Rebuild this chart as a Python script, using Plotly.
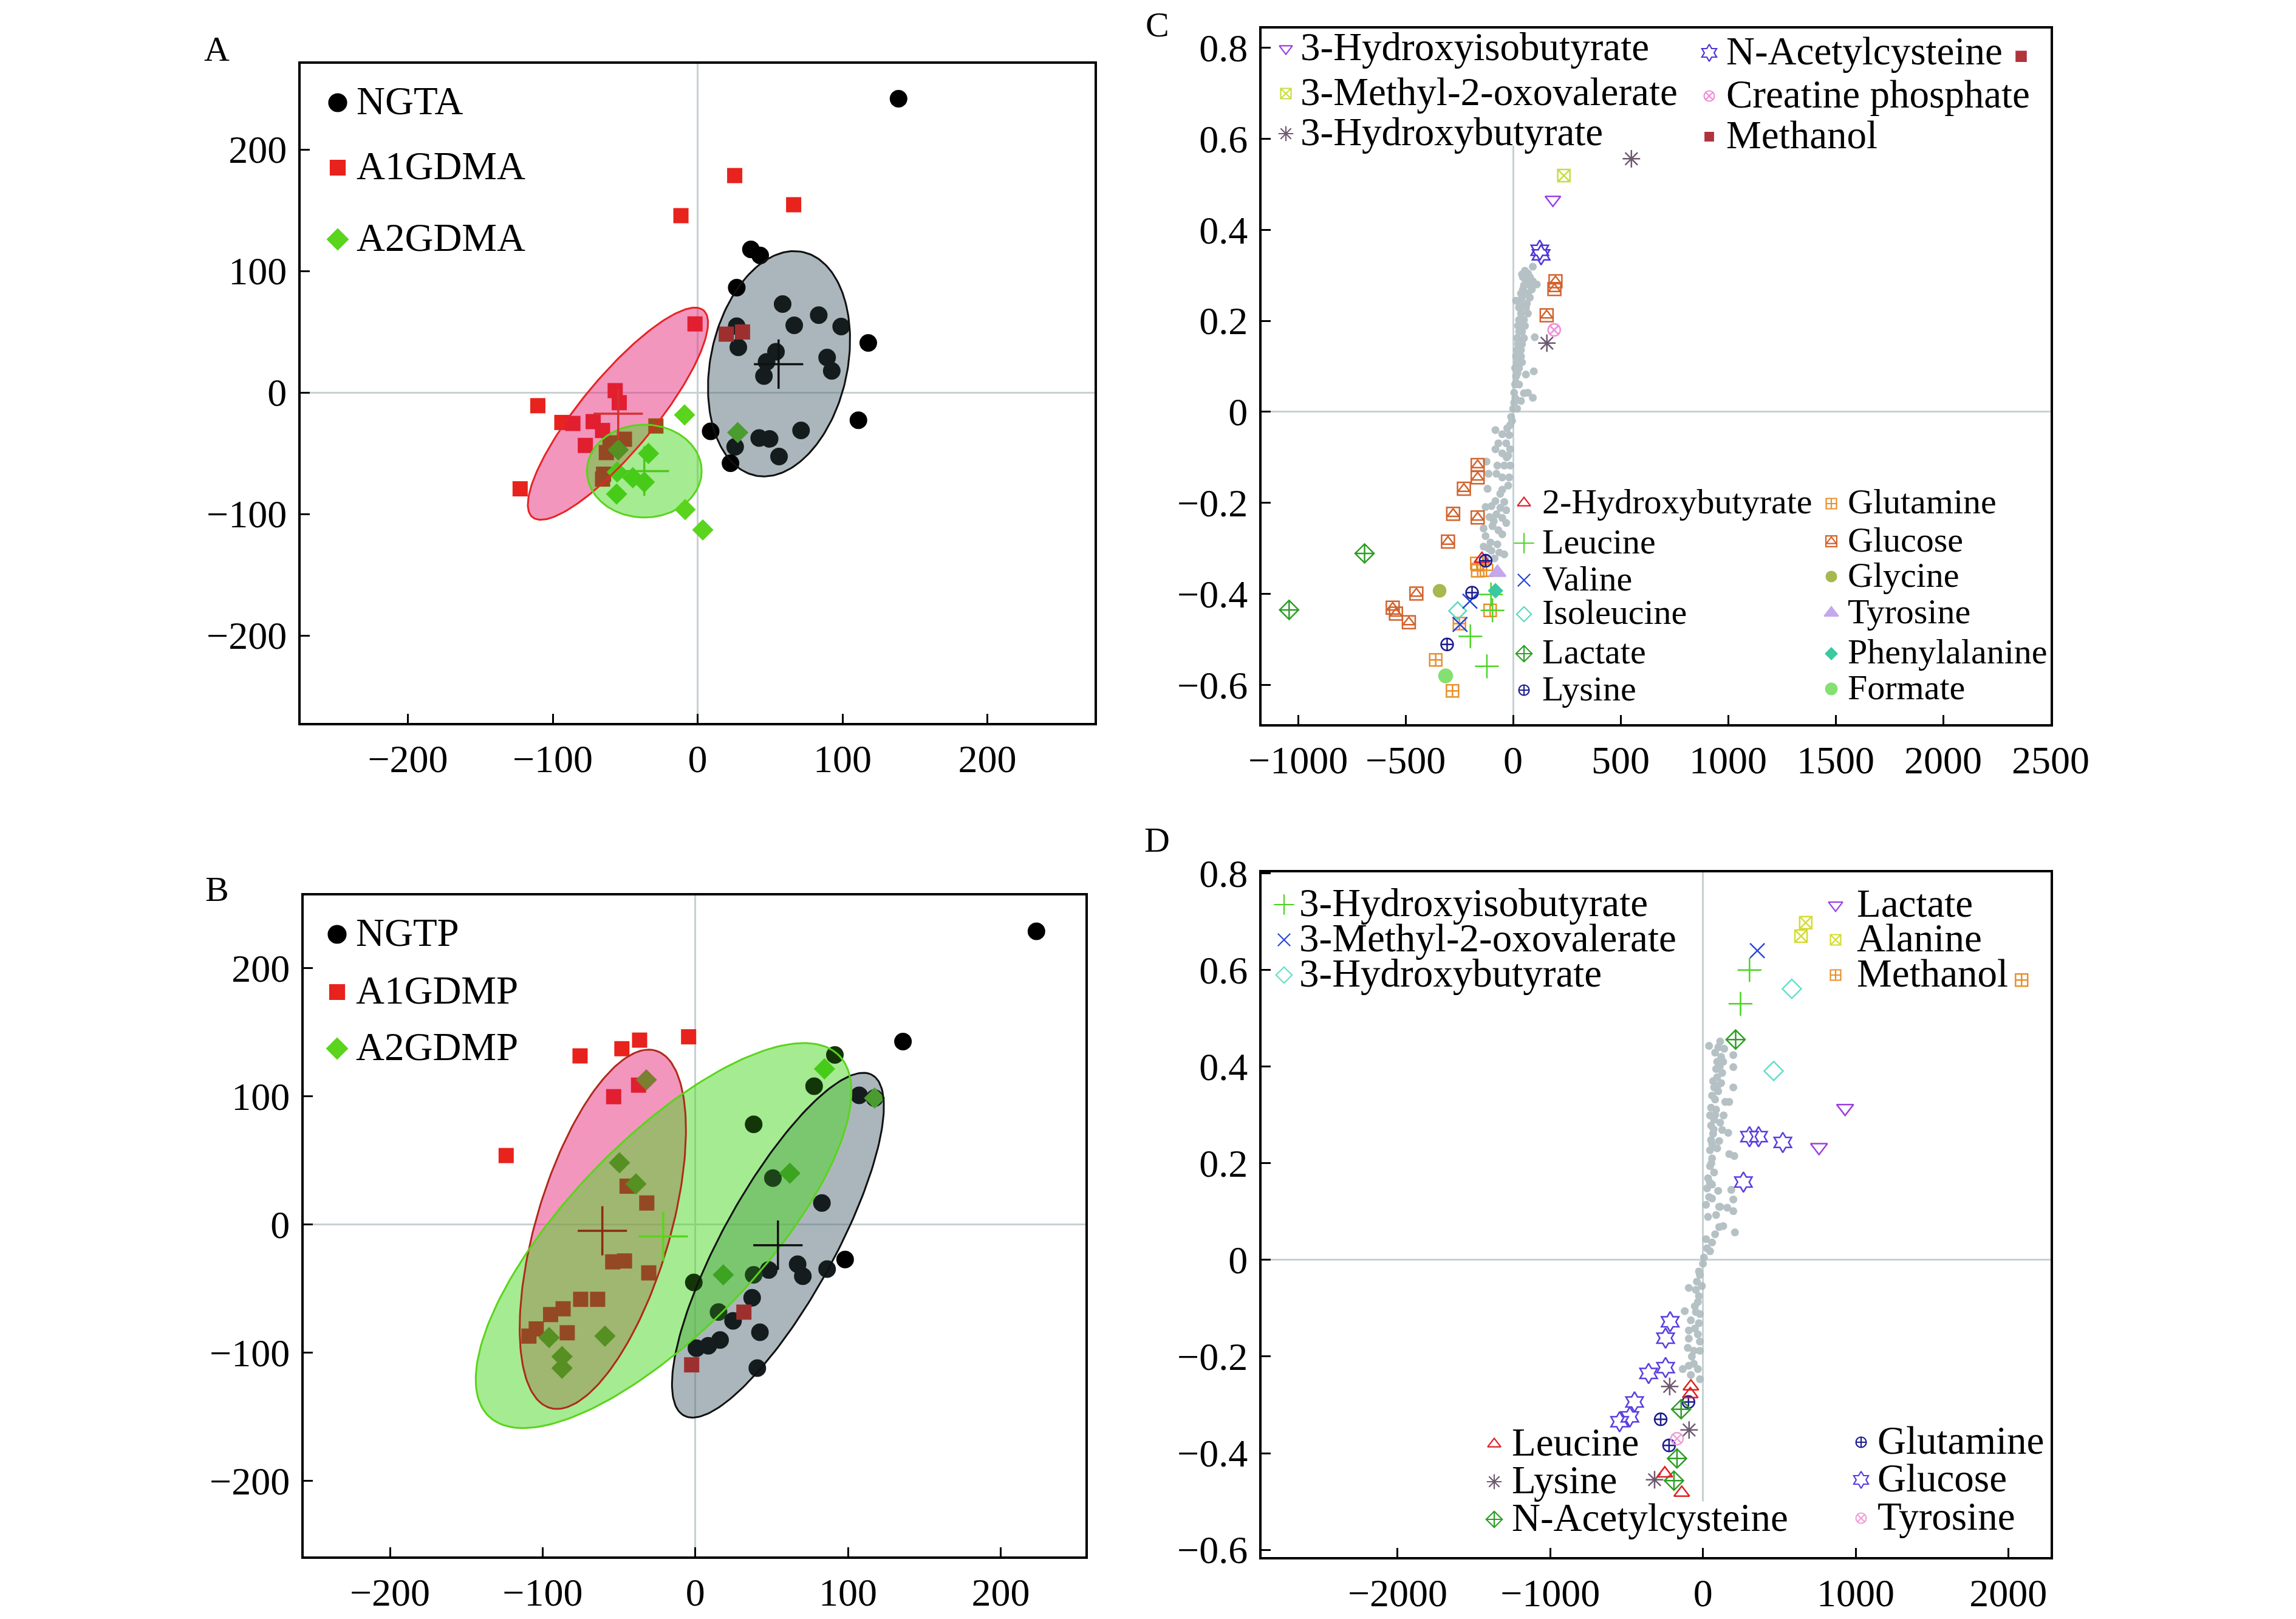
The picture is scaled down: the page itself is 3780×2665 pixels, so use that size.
import numpy as np
import plotly.graph_objects as go

W, H = 3780, 2665
FONT = "Liberation Serif"
OFF = -8  # compensates the page's body margin

# ---------------- Panel A (scores) ----------------
ngta = [(138.7, 241.8), (36.8, 117.8), (43.2, 112.7), (27.0, 86.2), (58.7, 72.7), (83.6, 63.6),
        (66.7, 55.3), (99.1, 54.2), (27.0, 54.5), (117.8, 40.7), (28.1, 37.1), (54.1, 33.5),
        (47.6, 25.1), (89.4, 28.7), (92.6, 17.8), (45.8, 13.5), (111.0, -22.9), (9.0, -32.0),
        (71.4, -31.3), (42.5, -37.5), (49.7, -38.2), (25.9, -44.7), (56.2, -52.7), (22.7, -58.2)]
a1gdma = [(25.6, 178.5), (66.3, 154.5), (-11.5, 145.5), (-1.8, 56.4), (19.8, 48.0), (31.0, 49.8),
          (-56.9, 1.5), (-54.1, -8.4), (-110.3, -10.9), (-93.7, -24.7), (-86.1, -25.5), (-72.1, -24.0),
          (-65.6, -31.3), (-28.8, -27.6), (-77.5, -43.6), (-50.5, -38.5), (-60.5, -41.5), (-63.0, -49.5),
          (-64.9, -67.3), (-65.6, -71.3), (-122.5, -79.3)]
a2gdma = [(-9.0, -18.5), (27.7, -33.0), (-54.8, -47.3), (-33.9, -50.2), (-55.5, -65.5), (-44.7, -70.2),
          (-36.8, -73.8), (-55.9, -83.6), (-8.6, -96.4), (3.6, -113.1)]
# ellipse parameters: centre x, centre y, semi-major, semi-minor, angle (deg)
ell_a = {"NGTA": (56.2, 23.6, 93.5, 47.5, 81.3),
         "A1GDMA": (-55.0, -17.5, 103.7, 27.1, 56.0),
         "A2GDMA": (-36.8, -64.7, 39.6, 38.2, 0.0)}
cent_a = {"NGTA": (55.9, 23.3), "A1GDMA": (-54.8, -17.5), "A2GDMA": (-36.8, -64.7)}

# ---------------- Panel B (scores) ----------------
ngtp = [(223.4, 228.6), (136.0, 142.7), (91.4, 132.2), (77.8, 107.9), (107.3, 100.8), (117.4, 98.6),
        (38.2, 78.1), (50.8, 36.2), (82.9, 16.8), (98.1, -27.3), (67.0, -31.0), (70.4, -40.3),
        (86.3, -34.7), (48.1, -35.5), (38.2, -39.2), (-1.0, -45.2), (37.2, -57.1), (15.2, -68.3),
        (24.7, -75.1), (42.3, -84.0), (16.2, -90.0), (8.5, -94.5), (0.7, -96.4), (40.6, -112.0)]
a1gdmp = [(-4.4, 146.4), (-36.5, 143.8), (-48.1, 137.1), (-75.5, 131.5), (-53.5, 99.7), (-37.2, 108.7),
          (-123.9, 53.8), (-44.7, 29.9), (-31.8, 16.8), (-54.1, -29.1), (-46.4, -28.4), (-30.5, -37.7),
          (-75.1, -58.3), (-64.0, -58.3), (-86.6, -65.7), (-94.8, -70.2), (-104.2, -81.4), (-109.0, -87.0),
          (-83.9, -84.4), (31.8, -68.3), (-2.4, -109.4)]
a2gdmp = [(84.6, 121.4), (117.4, 98.6), (-32.1, 112.8), (-49.7, 48.2), (-38.9, 31.7), (61.9, 40.0),
          (18.3, -39.2), (-59.2, -87.0), (-95.8, -88.1), (-87.3, -103.0), (-87.3, -112.0)]
ell_b = {"NGTP": (54.1, -16.1, 146.5, 37.7, 65.7),
         "A1GDMP": (-60.6, -3.7, 143.6, 44.3, 76.6),
         "A2GDMP": (-20.8, -8.6, 182.0, 67.4, 52.5)}
cent_b = {"NGTP": (54.1, -16.1), "A1GDMP": (-60.9, -4.9), "A2GDMP": (-21.0, -9.3)}

# ---------------- Panel C (loadings) ----------------
c_grey = [(91.6, 0.319), (41.2, 0.302), (68.7, 0.304), (109.9, 0.280), (13.7, 0.244), (100.7, 0.164),
          (96.1, 0.089), (59.5, 0.082), (68.7, 0.042), (50.4, 0.041), (91.6, 0.031), (36.6, 0.024),
          (13.7, 0.064), (45.8, 0.296), (77.8, 0.296), (59.5, 0.287), (91.6, 0.287), (50.4, 0.278),
          (77.8, 0.278), (45.8, 0.269), (87.0, 0.269), (36.6, 0.260), (68.7, 0.260), (41.2, 0.251),
          (77.8, 0.251), (32.0, 0.238), (64.1, 0.238), (27.5, 0.229), (59.5, 0.229), (36.6, 0.216),
          (68.7, 0.216), (27.5, 0.202), (50.4, 0.202), (22.9, 0.189), (54.9, 0.189), (27.5, 0.176),
          (41.2, 0.176), (18.3, 0.162), (50.4, 0.162), (22.9, 0.149), (41.2, 0.149), (18.3, 0.136),
          (36.6, 0.136), (13.7, 0.122), (36.6, 0.122), (18.3, 0.109), (41.2, 0.109), (9.2, 0.096),
          (27.5, 0.096), (13.7, 0.078), (9.2, 0.060), (27.5, 0.060), (4.6, 0.042), (4.6, 0.020),
          (0.0, 0.007), (18.3, 0.007), (55.0, 0.310), (30.0, 0.195), (32.0, 0.155), (25.0, 0.115),
          (20.0, 0.085), (10.0, 0.030),
          (-9.2, -0.011), (-13.7, -0.029), (-27.5, -0.036), (-82.4, -0.040), (-50.4, -0.049),
          (-18.3, -0.051), (-68.7, -0.069), (-32.0, -0.069), (-82.4, -0.082), (-13.7, -0.082),
          (-50.4, -0.091), (-22.9, -0.096), (-123.6, -0.109), (-73.3, -0.118), (-41.2, -0.118),
          (-13.7, -0.118), (-114.5, -0.136), (-77.8, -0.136), (-50.4, -0.144), (-18.3, -0.144),
          (-119.0, -0.169), (-50.4, -0.171), (-22.9, -0.162), (-82.4, -0.196), (-41.2, -0.198),
          (-128.2, -0.209), (-100.7, -0.207), (-59.5, -0.211), (-32.0, -0.216), (-109.9, -0.231),
          (-77.8, -0.225), (-50.4, -0.233), (-32.0, -0.244), (-137.4, -0.256), (-96.1, -0.251),
          (-68.7, -0.260), (-50.4, -0.269), (-128.2, -0.273), (-105.3, -0.287), (-73.3, -0.291),
          (-137.4, -0.296), (-100.7, -0.305), (-64.1, -0.309), (-41.2, -0.313), (-128.2, -0.320),
          (-86.9, -0.322), (-5.0, -0.020), (-30.0, -0.100), (-60.0, -0.180), (-90.0, -0.240),
          (-115.0, -0.300)]
c_hib = [(185, 0.466)]
c_m2o = [(236, 0.519)]
c_hb = [(550, 0.556), (157, 0.151)]
c_nac = [(124, 0.355), (130, 0.345)]
c_crp = [(191, 0.180)]
c_meoh = [(2363, 0.781)]
c_2hb = [(-145, -0.323)]
c_leu = [(-103, -0.401), (-96, -0.436), (-199, -0.493), (-122, -0.559)]
c_val = [(-201, -0.416), (-247, -0.467)]
c_ile = [(-258, -0.437)]
c_lac = [(-691, -0.311), (-1042, -0.435)]
c_lys = [(-128, -0.327), (-191, -0.397), (-307, -0.511)]
c_gln = [(-169, -0.333), (-165, -0.349), (-124, -0.348), (-107, -0.436), (-250, -0.465),
         (-360, -0.545), (-282, -0.613)]
c_glc = [(197, 0.287), (192, 0.270), (156, 0.212), (-165, -0.117), (-165, -0.144), (-229, -0.169),
         (-279, -0.224), (-165, -0.232), (-303, -0.285), (-450, -0.399), (-560, -0.430),
         (-545, -0.443), (-485, -0.462)]
c_gly = [(-342, -0.393)]
c_tyr = [(-73, -0.353)]
c_phe = [(-82, -0.393)]
c_for = [(-314, -0.580)]

# ---------------- Panel D (loadings) ----------------
d_grey = [(39.8, 0.443), (112.6, 0.452), (139.1, 0.437), (198.8, 0.424), (79.5, 0.429), (119.3, 0.420),
          (92.8, 0.410), (132.5, 0.410), (198.8, 0.399), (86.1, 0.395), (125.9, 0.387), (92.8, 0.378),
          (66.3, 0.370), (119.3, 0.366), (198.8, 0.357), (72.9, 0.357), (99.4, 0.349), (59.6, 0.340),
          (145.7, 0.327), (172.3, 0.327), (79.5, 0.332), (53.0, 0.315), (86.1, 0.311), (46.4, 0.299),
          (135.2, 0.299), (72.9, 0.290), (112.6, 0.284), (53.0, 0.278), (125.9, 0.269), (165.6, 0.263),
          (66.3, 0.261), (53.0, 0.248), (106.0, 0.246), (92.8, 0.231), (46.4, 0.227), (172.3, 0.219),
          (205.4, 0.215), (59.6, 0.210), (46.4, 0.194), (72.9, 0.181), (33.1, 0.169), (59.6, 0.156),
          (99.4, 0.143), (26.5, 0.148), (185.5, 0.145), (59.6, 0.127), (198.8, 0.125), (112.6, 0.110),
          (19.9, 0.114), (100.0, 0.440), (110.0, 0.400), (95.0, 0.360), (80.0, 0.300), (70.0, 0.270),
          (60.0, 0.240), (55.0, 0.200), (45.0, 0.160), (40.0, 0.130),
          (106.0, 0.110), (159.0, 0.108), (198.8, 0.101), (86.1, 0.093), (33.1, 0.089), (106.0, 0.068),
          (132.5, 0.070), (209.4, 0.057), (79.5, 0.053), (19.9, 0.043), (59.6, 0.036), (26.5, 0.024),
          (46.4, 0.018), (6.6, 0.005), (0.0, -0.008), (-26.5, -0.024), (-19.9, -0.031), (-39.8, -0.045),
          (-92.8, -0.058), (-6.6, -0.054), (-46.4, -0.062), (-26.5, -0.075), (-33.1, -0.087),
          (-53.0, -0.096), (-119.3, -0.106), (-46.4, -0.108), (-19.9, -0.112), (-79.5, -0.125),
          (-26.5, -0.131), (-92.8, -0.146), (-53.0, -0.142), (-33.1, -0.154), (-92.8, -0.163),
          (-19.9, -0.169), (-99.4, -0.182), (-59.6, -0.188), (-72.9, -0.200), (-19.9, -0.188),
          (-132.5, -0.226), (-92.8, -0.219), (-59.6, -0.215), (-33.1, -0.226), (-79.5, -0.238),
          (-19.9, -0.247)]
d_hib = [(305, 0.600), (246, 0.530)]
d_m2o = [(356, 0.640)]
d_hb = [(582, 0.561), (463, 0.391)]
d_lac = [(931, 0.314), (760, 0.233)]
d_ala = [(673, 0.698), (642, 0.670)]
d_meoh = [(2087, 0.579)]
d_leu = [(-79, -0.262), (-83, -0.278), (-250, -0.442), (-139, -0.482)]
d_lys = [(-218, -0.262), (-91, -0.352), (-317, -0.455)]
d_nac = [(214, 0.456), (-143, -0.309), (-170, -0.411), (-190, -0.457)]
d_gln = [(-95, -0.294), (-277, -0.330), (-222, -0.384)]
d_glc = [(305, 0.255), (364, 0.255), (523, 0.243), (265, 0.161), (-215, -0.128), (-245, -0.162),
         (-245, -0.223), (-356, -0.235), (-448, -0.294), (-479, -0.325), (-546, -0.335)]
d_tyr = [(-170, -0.370)]

# tick values / labels
ab_ticks = [-200, -100, 0, 100, 200]
ab_ticktext = ["\u2212200", "\u2212100", "0", "100", "200"]
c_xticks = [-1000, -500, 0, 500, 1000, 1500, 2000, 2500]
c_xtext = ["\u22121000", "\u2212500", "0", "500", "1000", "1500", "2000", "2500"]
d_xticks = [-2000, -1000, 0, 1000, 2000]
d_xtext = ["\u22122000", "\u22121000", "0", "1000", "2000"]
cd_yticks = [-0.6, -0.4, -0.2, 0, 0.2, 0.4, 0.6, 0.8]
cd_ytext = ["\u22120.6", "\u22120.4", "\u22120.2", "0", "0.2", "0.4", "0.6", "0.8"]

# ---------------- styles ----------------
BLACK, RED, GREEN = (0, 0, 0), (232, 34, 28), (90, 212, 28)
GREY_DOT = "#aebbbe"
# ellipse fills (alpha-blended between themselves)
FILL_GREY, FILL_PINK, FILL_GREEN = (85, 110, 120), (230, 45, 125), (75, 215, 35)
ALPHA = 0.5


def xs(p):
    return [q[0] for q in p]


def ys(p):
    return [q[1] for q in p]


def hexcol(c):
    return "#%02x%02x%02x" % tuple(int(round(min(255, max(0, v)))) for v in c)


def inside(pt, par):
    cx, cy, a, b, ang = par
    th = np.deg2rad(ang)
    dx, dy = pt[0] - cx, pt[1] - cy
    u = dx * np.cos(th) + dy * np.sin(th)
    v = -dx * np.sin(th) + dy * np.cos(th)
    return (u / a) ** 2 + (v / b) ** 2 <= 1.0


def tinted(pts, base, ells):
    """colour of each mark seen through the translucent ellipses."""
    cols = []
    for p in pts:
        cm = np.array(base, dtype=float)   # multiply look
        ca = np.array(base, dtype=float)   # alpha-over look
        for par, fill in ells:
            if inside(p, par):
                f = np.array(fill, dtype=float)
                cm = cm * (f * ALPHA + 255 * (1 - ALPHA)) / 255.0
                ca = ca * (1 - ALPHA) + f * ALPHA
        cols.append(hexcol(0.5 * (cm + ca)))
    return cols


fig = go.Figure()


def add_pts(pts, ax, symbol, color, size, lw=2.5, opacity=1.0):
    fig.add_trace(go.Scatter(x=xs(pts), y=ys(pts), mode="markers", xaxis="x" + ax, yaxis="y" + ax,
                             showlegend=False, hoverinfo="skip", opacity=opacity,
                             marker=dict(symbol=symbol, size=size, color=color,
                                         line=dict(color=color, width=lw))))


def ellipse(par, n=200):
    cx, cy, a, b, ang = par
    t = np.linspace(0, 2 * np.pi, n)
    th = np.deg2rad(ang)
    x = cx + a * np.cos(t) * np.cos(th) - b * np.sin(t) * np.sin(th)
    y = cy + a * np.cos(t) * np.sin(th) + b * np.sin(t) * np.cos(th)
    return x, y


def add_ell_fill(par, ax, fill):
    x, y = ellipse(par)
    fig.add_trace(go.Scatter(x=x, y=y, mode="lines", fill="toself",
                             fillcolor="rgba(%d,%d,%d,%.2f)" % (fill + (ALPHA,)),
                             line=dict(width=0), xaxis="x" + ax, yaxis="y" + ax,
                             showlegend=False, hoverinfo="skip"))


def add_ell_line(par, ax, line):
    x, y = ellipse(par)
    fig.add_trace(go.Scatter(x=x, y=y, mode="lines", line=dict(color=line, width=3),
                             xaxis="x" + ax, yaxis="y" + ax, showlegend=False, hoverinfo="skip"))


def add_cross(c, ax, color):
    fig.add_trace(go.Scatter(x=[c[0]], y=[c[1]], mode="markers", xaxis="x" + ax, yaxis="y" + ax,
                             showlegend=False, hoverinfo="skip",
                             marker=dict(symbol="cross-thin-open", size=58, color=color,
                                         line=dict(color=color, width=3.5))))


def score_panel(ax, groups, ells, cents, line_cols, cross_cols):
    for par, fill in ells:
        add_ell_fill(par, ax, fill)
    for pts, base, sym, size in groups:
        add_pts(pts, ax, sym, tinted(pts, base, ells), size, lw=0)
    for (par, fill), lc in zip(ells, line_cols):
        add_ell_line(par, ax, lc)
    for c, cc in zip(cents, cross_cols):
        add_cross(c, ax, cc)


# Panel A
score_panel("",
            [(ngta, BLACK, "circle", 29), (a1gdma, RED, "square", 25), (a2gdma, GREEN, "diamond", 27)],
            [(ell_a["NGTA"], FILL_GREY), (ell_a["A1GDMA"], FILL_PINK), (ell_a["A2GDMA"], FILL_GREEN)],
            [cent_a["NGTA"], cent_a["A1GDMA"], cent_a["A2GDMA"]],
            ["#111111", "#e82424", "#5ad41c"], ["#111111", "#d83030", "#4cc81c"])
# Panel B
score_panel("2",
            [(ngtp, BLACK, "circle", 29), (a1gdmp, RED, "square", 25), (a2gdmp, GREEN, "diamond", 27)],
            [(ell_b["NGTP"], FILL_GREY), (ell_b["A1GDMP"], FILL_PINK), (ell_b["A2GDMP"], FILL_GREEN)],
            [cent_b["NGTP"], cent_b["A1GDMP"], cent_b["A2GDMP"]],
            ["#111111", "#b02a1a", "#5ad41c"], ["#111111", "#8c2a14", "#5ad41c"])

# marker styles for loadings
STY = {
    "hib_c": ("triangle-down-open", "#9a40e0", 22),
    "m2o_c": ("square-x-open", "#c8dc40", 20),
    "hb_c": ("asterisk-open", "#6e5a70", 24),
    "nac_c": ("hexagram-open", "#4b35d8", 25),
    "crp": ("circle-x-open", "#f08cd8", 20),
    "meoh_c": ("square", "#b0343c", 16),
    "2hb": ("triangle-up-open", "#e0202a", 22),
    "leu_c": ("cross-thin-open", "#4cd626", 28),
    "val": ("x-thin-open", "#2244d8", 24),
    "ile": ("diamond-open", "#5cd8c0", 22),
    "lac_c": ("diamond-cross-open", "#2e9e26", 24),
    "lys_c": ("circle-cross-open", "#1c1c90", 20),
    "gln_c": ("square-cross-open", "#e8902c", 20),
    "glc_c": ("square-open", "#d2622c", 21),
    "gly": ("circle", "#a8b850", 20),
    "tyr_c": ("triangle-up", "#c4a8ec", 24),
    "phe": ("diamond", "#3cc8a0", 17),
    "for": ("circle", "#84e070", 22),
    "hib_d": ("cross-thin-open", "#48d420", 28),
    "m2o_d": ("x-thin-open", "#2a48d8", 24),
    "hb_d": ("diamond-open", "#66e0c8", 24),
    "lac_d": ("triangle-down-open", "#9a40e0", 24),
    "ala": ("square-x-open", "#d4dc30", 20),
    "meoh_d": ("square-cross-open", "#e8902c", 20),
    "leu_d": ("triangle-up-open", "#e02020", 22),
    "lys_d": ("asterisk-open", "#6e5a70", 24),
    "nac_d": ("diamond-cross-open", "#2e9e26", 24),
    "gln_d": ("circle-cross-open", "#1c1c90", 20),
    "glc_d": ("hexagram-open", "#5a3ee0", 25),
    "tyr_d": ("circle-x-open", "#f0a0d8", 20),
}


def add_style(pts, ax, key):
    sym, col, sz = STY[key]
    add_pts(pts, ax, sym, col, sz)
    if key == "glc_c":
        add_pts(pts, ax, "triangle-up-open", col, sz * 0.8)


# Panel C
add_pts(c_grey, "3", "circle", GREY_DOT, 13, lw=0, opacity=0.9)
for pts, key in [(c_glc, "glc_c"), (c_gln, "gln_c"), (c_lac, "lac_c"), (c_gly, "gly"), (c_for, "for"),
                 (c_ile, "ile"), (c_val, "val"), (c_leu, "leu_c"), (c_phe, "phe"), (c_tyr, "tyr_c"),
                 (c_2hb, "2hb"), (c_lys, "lys_c"), (c_hib, "hib_c"), (c_m2o, "m2o_c"), (c_hb, "hb_c"),
                 (c_nac, "nac_c"), (c_crp, "crp"), (c_meoh, "meoh_c")]:
    add_style(pts, "3", key)

# Panel D
add_pts(d_grey, "4", "circle", GREY_DOT, 13, lw=0, opacity=0.9)
for pts, key in [(d_glc, "glc_d"), (d_gln, "gln_d"), (d_nac, "nac_d"), (d_lys, "lys_d"), (d_leu, "leu_d"),
                 (d_tyr, "tyr_d"), (d_hib, "hib_d"), (d_m2o, "m2o_d"), (d_hb, "hb_d"), (d_lac, "lac_d"),
                 (d_ala, "ala"), (d_meoh, "meoh_d")]:
    add_style(pts, "4", key)

# ---------------- legends (drawn manually, pixel layout) ----------------
# block: key x, text x, row y list, font size, entries
legend_blocks = [
    (556, 585, [169, 276, 394], 65, [("NGTA", "circle", "#000000", 29), ("A1GDMA", "square", hexcol(RED), 24),
                                     ("A2GDMA", "diamond", hexcol(GREEN), 26)]),
    (555, 584, [1538, 1633, 1726], 65, [("NGTP", "circle", "#000000", 29), ("A1GDMP", "square", hexcol(RED), 24),
                                        ("A2GDMP", "diamond", hexcol(GREEN), 26)]),
    (2117, 2139, [80, 154, 220], 65, [("3-Hydroxyisobutyrate", "hib_c"), ("3-Methyl-2-oxovalerate", "m2o_c"),
                                      ("3-Hydroxybutyrate", "hb_c")]),
    (2814, 2840, [87, 158, 225], 65, [("N-Acetylcysteine", "nac_c"), ("Creatine phosphate", "crp"),
                                      ("Methanol", "meoh_c")]),
    (2509, 2537, [828, 894, 955, 1011, 1076, 1136], 58,
     [("2-Hydroxybutyrate", "2hb"), ("Leucine", "leu_c"), ("Valine", "val"), ("Isoleucine", "ile"),
      ("Lactate", "lac_c"), ("Lysine", "lys_c")]),
    (3015, 3040, [829, 891, 949, 1009, 1076, 1134], 58,
     [("Glutamine", "gln_c"), ("Glucose", "glc_c"), ("Glycine", "gly"), ("Tyrosine", "tyr_c"),
      ("Phenylalanine", "phe"), ("Formate", "for")]),
    (2114, 2137, [1489, 1547, 1605], 65, [("3-Hydroxyisobutyrate", "hib_d"), ("3-Methyl-2-oxovalerate", "m2o_d"),
                                          ("3-Hydroxybutyrate", "hb_d")]),
    (3022, 3055, [1490, 1547, 1605], 65, [("Lactate", "lac_d"), ("Alanine", "ala"), ("Methanol", "meoh_d")]),
    (2460, 2487, [2377, 2439, 2501], 65, [("Leucine", "leu_d"), ("Lysine", "lys_d"),
                                          ("N-Acetylcysteine", "nac_d")]),
    (3064, 3089, [2374, 2436, 2499], 65, [("Glutamine", "gln_d"), ("Glucose", "glc_d"), ("Tyrosine", "tyr_d")]),
]

annotations = []
for kx, tx, rows, fs, entries in legend_blocks:
    for ry, ent in zip(rows, entries):
        if len(ent) == 4:
            label, sym, col, sz = ent
            syms = [(sym, sz)]
        else:
            label, key = ent
            sym, col, sz = STY[key]
            sz = sz * 0.85
            syms = [(sym, sz)]
            if key == "glc_c":
                syms.append(("triangle-up-open", sz * 0.8))
        for s, z in syms:
            fig.add_trace(go.Scatter(x=[kx + OFF], y=[ry + OFF], mode="markers", xaxis="x5", yaxis="y5",
                                     showlegend=False, hoverinfo="skip",
                                     marker=dict(symbol=s, size=z, color=col, line=dict(color=col, width=2.2))))
        annotations.append(dict(x=(tx + OFF) / W, y=1 - (ry + OFF - 3) / H, xref="paper", yref="paper",
                                text=label, showarrow=False, xanchor="left", yanchor="middle",
                                font=dict(family=FONT, size=fs, color="black")))

# panel letters
for letter, px, py in [("A", 357, 80), ("B", 357, 1463), ("C", 1905, 40), ("D", 1905, 1382)]:
    annotations.append(dict(x=(px + OFF) / W, y=1 - (py + OFF) / H, xref="paper", yref="paper", text=letter,
                            showarrow=False, xanchor="center", yanchor="middle",
                            font=dict(family=FONT, size=58, color="black")))


def axis(domain, rng, tickvals, ticktext, anchor, standoff):
    return dict(domain=domain, range=rng, anchor=anchor, showline=True, mirror=True, linecolor="black",
                linewidth=4, ticks="inside", ticklen=15, tickwidth=3, tickcolor="black", showgrid=False,
                zeroline=True, zerolinecolor="#c6d1d2", zerolinewidth=3, tickmode="array",
                tickvals=tickvals, ticktext=ticktext, ticklabelstandoff=standoff, automargin=False,
                tickfont=dict(family=FONT, size=64, color="black"), fixedrange=True)


def dom_x(a, b):
    return [(a + OFF) / W, (b + OFF) / W]


def dom_y(top, bottom):
    return [1 - (bottom + OFF) / H, 1 - (top + OFF) / H]


# white masks hiding the zero line behind legend text
shapes = [
    dict(type="rect", xref="x3", yref="y3", x0=-80, x1=80, y0=0.585, y1=0.842, layer="between",
         fillcolor="white", line=dict(width=0)),
    dict(type="rect", xref="x4", yref="y4", x0=-60, x1=60, y0=-0.615, y1=-0.5, layer="between",
         fillcolor="white", line=dict(width=0)),
]

fig.update_layout(
    width=W, height=H, autosize=False, margin=dict(l=0, r=0, t=0, b=0, pad=0, autoexpand=False),
    paper_bgcolor="white", plot_bgcolor="rgba(0,0,0,0)", showlegend=False,
    font=dict(family=FONT, color="black"),
    xaxis=axis(dom_x(495, 1802), [-274, 274], ab_ticks, ab_ticktext, "y", 0),
    yaxis=axis(dom_y(105, 1190), [-272, 270.5], ab_ticks, ab_ticktext, "x", 6),
    xaxis2=axis(dom_x(500, 1787), [-256.5, 255.5], ab_ticks, ab_ticktext, "y2", 0),
    yaxis2=axis(dom_y(1474, 2562), [-258.8, 256.6], ab_ticks, ab_ticktext, "x2", 6),
    xaxis3=axis(dom_x(2077, 3376), [-1170, 2500], c_xticks, c_xtext, "y3", 0),
    yaxis3=axis(dom_y(47, 1192), [-0.686, 0.842], cd_yticks, cd_ytext, "x3", 6),
    xaxis4=axis(dom_x(2077, 3376), [-2891, 2277], d_xticks, d_xtext, "y4", 0),
    yaxis4=axis(dom_y(1436, 2563), [-0.615, 0.802], cd_yticks, cd_ytext, "x4", 6),
    xaxis5=dict(domain=[0, 1], range=[0, W], visible=False, fixedrange=True, anchor="y5", automargin=False),
    yaxis5=dict(domain=[0, 1], range=[H, 0], visible=False, fixedrange=True, anchor="x5", automargin=False),
    annotations=annotations,
    shapes=shapes,
)

fig.write_html("out.html")
